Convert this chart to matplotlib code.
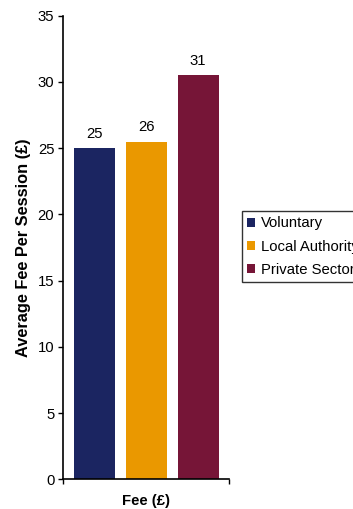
import matplotlib
matplotlib.use("Agg")
import matplotlib.pyplot as plt

plt.rcParams['font.family'] = ['Liberation Sans', 'DejaVu Sans']

sectors = ['Voluntary', 'Local Authority', 'Private Sector']
fees = [25.0, 25.5, 30.5]
colours = ['#1b2561', '#ea9800', '#761537']
category = 'Fee (£)'

fs = 10.7

fig = plt.figure(figsize=(3.53, 5.09), dpi=100)
ax = fig.add_axes([0.1793, 0.0583, 0.470, 0.9108])

xs = range(len(fees))
bars = ax.bar(xs, fees, width=0.79, color=colours, label=sectors)

# excel-style labels, rounded half up
for x, v in zip(xs, fees):
    ax.text(x, v + 0.55, '%d' % int(v + 0.5), ha='center', va='bottom', fontsize=fs)

ax.set_xlim(-0.6, 2.6)
ax.set_ylim(0, 35)
ax.set_yticks(range(0, 36, 5))
ax.set_xticks([-0.6, 2.6])
ax.set_xticklabels(['', ''])
ax.tick_params(axis='y', direction='out', length=3.6, width=1, labelsize=fs, pad=2.9)
ax.tick_params(axis='x', direction='out', length=3.6, width=1)
ax.spines['top'].set_visible(False)
ax.spines['right'].set_visible(False)
ax.spines['left'].set_linewidth(1.2)
ax.spines['bottom'].set_linewidth(1.2)

ax.set_ylabel('Average Fee Per Session (£)', fontsize=11.8, fontweight='bold', labelpad=5)
ax.text(1, -1.1, category, ha='center', va='top', fontsize=fs, fontweight='bold')

leg = fig.legend(handles=bars, labels=sectors, loc='upper left',
                 bbox_to_anchor=(241.7 / 353, 1 - 211 / 509), fontsize=fs,
                 frameon=True, fancybox=False, edgecolor='black',
                 handlelength=0.55, handleheight=0.55, handletextpad=0.4,
                 labelspacing=0.62, borderpad=0.36, borderaxespad=0)
leg.get_frame().set_linewidth(1.0)

fig.savefig('out.png', dpi=100)
